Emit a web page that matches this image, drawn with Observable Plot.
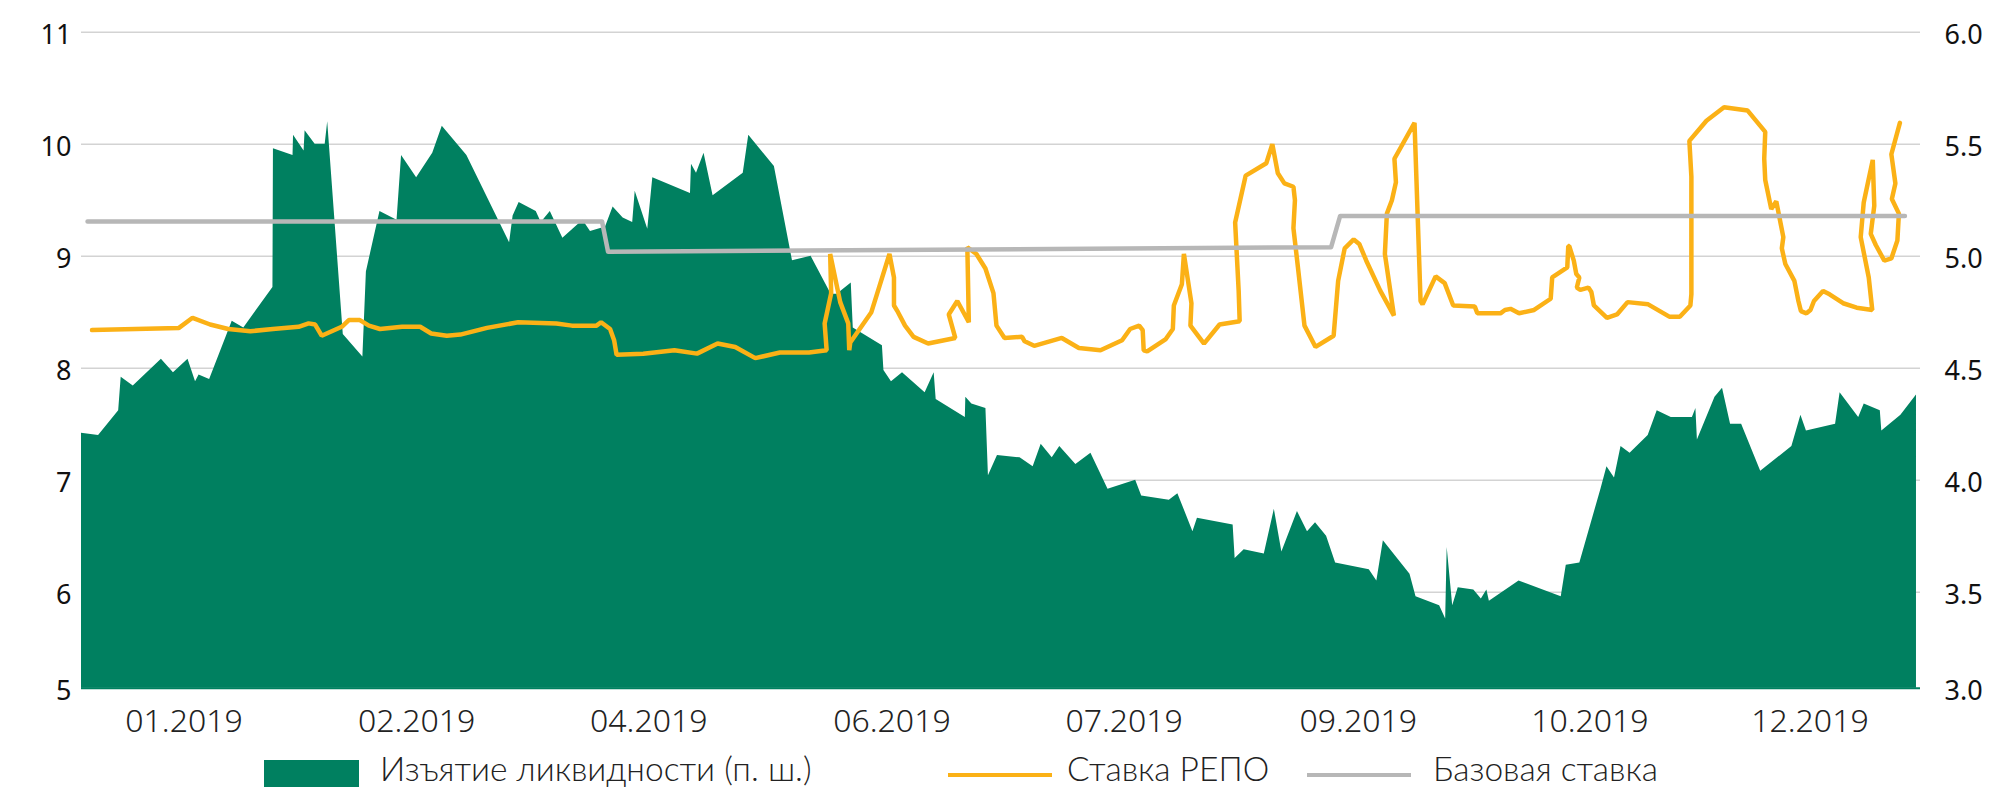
<!DOCTYPE html>
<html><head><meta charset="utf-8">
<script src="https://cdn.jsdelivr.net/npm/d3@7"></script>
<script src="https://cdn.jsdelivr.net/npm/@observablehq/plot@0.6"></script>
<style>
body{margin:0;background:#fff;}
#wrap{position:relative;width:1997px;height:790px;font-family:Lato,"Open Sans",sans-serif;overflow:hidden;}
#chart{position:absolute;left:0;top:0;}
.sw{position:absolute;}
.lt{position:absolute;font-size:33.5px;font-weight:300;color:#222;line-height:30px;top:753px;white-space:nowrap;}
</style></head><body><div id="wrap"><div id="chart"></div><div id="legend"></div></div>
<script>
// ---- data ----
// liquidity withdrawal (right scale, trn), x = day of year position
const liqDay = [0,3.4,7.4,7.9,10.3,15.9,18.3,21.2,22.7,23.4,
25.5,30.0,32.3,38.1,38.2,42.1,42.2,44.3,44.5,46.5,
48.5,49.0,52.1,56.0,56.7,59.4,62.8,63.7,66.7,69.9,
71.8,76.7,85.2,85.9,87.1,90.5,91.5,93.3,95.8,99.8,
101.3,104.3,105.8,107.8,109.7,110.2,112.7,113.7,121.2,121.4,
122.4,123.9,125.7,131.7,132.8,137.9,141.5,145.2,149.2,150.4,
153.2,153.6,159.4,159.7,161.2,163.4,167.9,169.7,170.1,175.9,
176.0,177.2,180.0,180.5,182.3,186.8,189.4,191.0,193.2,194.7,
197.9,200.9,204.3,209.8,211.0,216.5,218.2,221.2,222.1,229.2,
229.6,231.4,235.4,237.4,238.9,242.0,244.0,245.6,247.8,249.6,
256.3,257.8,259.1,264.4,265.6,270.3,271.5,271.8,272.9,274.0,
277.1,278.6,279.7,280.2,286.1,294.5,295.5,298.2,302.4,303.6,
305.1,306.4,308.2,311.8,313.6,316.4,320.6,321.3,321.6,325.1,
326.6,328.2,330.4,334.2,340.4,342.2,343.3,349.1,350.0,353.7,
354.8,358.0,358.3,362.1,365.2];
const liqVal = [4.21,4.20,4.31,4.46,4.42,4.54,4.48,4.54,4.44,4.47,
4.45,4.71,4.68,4.86,5.48,5.45,5.54,5.47,5.56,5.50,
5.50,5.60,4.65,4.55,4.93,5.20,5.16,5.45,5.35,5.46,
5.58,5.45,5.06,5.18,5.24,5.20,5.15,5.20,5.08,5.16,
5.11,5.13,5.22,5.17,5.15,5.29,5.12,5.35,5.28,5.41,
5.37,5.46,5.27,5.37,5.54,5.40,4.98,5.00,4.83,4.83,
4.88,4.68,4.60,4.49,4.44,4.48,4.39,4.48,4.36,4.28,
4.37,4.34,4.32,4.02,4.11,4.10,4.06,4.16,4.10,4.15,
4.07,4.12,3.96,4.00,3.93,3.91,3.94,3.77,3.83,3.80,
3.65,3.69,3.67,3.87,3.68,3.86,3.77,3.81,3.75,3.63,
3.60,3.55,3.73,3.58,3.48,3.44,3.38,3.70,3.44,3.52,
3.51,3.47,3.51,3.46,3.55,3.48,3.62,3.63,3.96,4.06,
4.01,4.15,4.12,4.20,4.31,4.28,4.28,4.32,4.18,4.37,
4.41,4.25,4.25,4.04,4.15,4.29,4.22,4.25,4.39,4.28,
4.34,4.31,4.22,4.29,4.38];

// REPO rate (left scale, %)
const repoDay = [2.1,19.4,22.1,25.6,29.2,33.6,38.1,43.2,45.2,46.5,
47.8,51.8,53.2,55.4,57.2,59.4,63.8,67.4,69.6,72.7,
75.4,80.7,86.9,94.5,97.6,102.5,103.4,105.2,106.0,106.5,
111.8,118.0,122.5,126.6,130.1,134.1,139.0,144.8,148.3,147.9,
149.2,149.0,151.0,152.6,152.8,153.0,157.2,158.8,160.8,161.7,
161.7,162.5,163.9,165.6,168.5,173.9,172.6,174.3,176.6,176.3,
178.1,179.9,181.5,182.1,183.7,187.2,187.7,189.6,195.1,198.5,
202.8,207.1,208.7,210.5,211.2,211.4,212.1,215.8,217.2,217.4,
219.0,219.4,220.9,220.7,223.4,226.5,230.5,230.3,229.6,231.7,
235.8,237.0,238.1,239.4,241.2,241.5,241.2,242.1,243.4,245.6,
249.2,250.1,251.4,253.2,254.3,255.7,258.5,261.2,259.4,259.8,
260.8,261.6,261.3,265.3,266.5,266.9,269.5,271.3,273.0,277.3,
277.8,282.4,283.3,284.4,286.1,289.1,292.4,292.7,295.7,295.9,
296.1,297.0,297.5,298.1,297.6,298.3,299.9,300.5,301.0,303.6,
305.6,307.7,311.8,316.0,318.1,320.2,320.4,320.4,320.0,323.4,
326.9,331.6,335.1,334.9,335.1,336.3,337.3,338.7,338.4,339.1,
340.9,341.7,342.2,343.3,344.1,344.8,346.6,347.9,350.6,353.3,
356.4,355.7,354.1,354.7,356.5,356.8,356.1,357.1,358.8,360.2,
361.4,361.7,360.3,361.0,360.2,361.9];
const repoVal = [8.34,8.36,8.45,8.39,8.35,8.33,8.35,8.37,8.40,8.39,
8.29,8.37,8.43,8.43,8.38,8.35,8.37,8.37,8.31,8.29,
8.30,8.36,8.41,8.40,8.38,8.38,8.41,8.35,8.25,8.12,
8.13,8.16,8.13,8.22,8.19,8.09,8.14,8.14,8.16,8.40,
8.67,9.02,8.59,8.40,8.16,8.23,8.50,8.73,9.02,8.81,
8.56,8.50,8.38,8.28,8.22,8.27,8.48,8.60,8.41,9.08,
9.02,8.89,8.67,8.38,8.27,8.28,8.24,8.20,8.27,8.18,
8.16,8.25,8.35,8.38,8.34,8.16,8.15,8.26,8.35,8.56,
8.75,9.02,8.58,8.38,8.22,8.39,8.42,8.69,9.30,9.72,
9.83,10.00,9.74,9.65,9.62,9.50,9.25,8.90,8.38,8.19,
8.29,8.78,9.07,9.15,9.11,8.96,8.69,8.47,9.02,9.38,
9.50,9.66,9.87,10.19,8.60,8.57,8.82,8.76,8.56,8.55,
8.49,8.49,8.52,8.53,8.49,8.52,8.62,8.81,8.90,9.09,
9.09,8.96,8.84,8.81,8.72,8.70,8.72,8.68,8.56,8.45,
8.48,8.59,8.57,8.46,8.46,8.56,8.66,9.71,10.03,10.21,
10.33,10.30,10.11,9.87,9.68,9.42,9.49,9.17,9.07,8.93,
8.78,8.60,8.51,8.49,8.52,8.60,8.69,8.66,8.58,8.54,
8.52,8.81,9.17,9.48,9.86,9.45,9.20,9.10,8.96,8.98,
9.14,9.38,9.51,9.65,9.91,10.19];

// Base rate (left scale, %)
const baseDay = [1.2,103.6,104.8,248.7,250.5,362.9];
const baseVal = [9.31,9.31,9.04,9.08,9.36,9.36];

// axes
const xTickDays = [20.4,66.7,112.9,161.3,207.5,254.1,300.2,344.0];
const xTickLabels = ["01.2019","02.2019","04.2019","06.2019","07.2019","09.2019","10.2019","12.2019"];
const leftTicks = [5,6,7,8,9,10,11];
const rightTickLabels = ["3.0","3.5","4.0","4.5","5.0","5.5","6.0"];
const seriesNames = ["Изъятие ликвидности (п. ш.)","Ставка РЕПО","Базовая ставка"];
const colors = ["#008060","#FBB116","#B7B7B7"];

// ---- build ----
const toLeft = v => 2 * v - 1; // right scale (3..6) -> left scale (5..11)
const liq = liqDay.map((d, i) => ({d, v: liqVal[i]}));
const repo = repoDay.map((d, i) => ({d, v: repoVal[i]}));
const base = baseDay.map((d, i) => ({d, v: baseVal[i]}));

const chart = Plot.plot({
  width: 1997,
  height: 745,
  marginLeft: 81,
  marginRight: 77,
  marginTop: 20,
  marginBottom: 57.3,
  style: {background: "transparent", overflow: "visible"},
  x: {type: "linear", domain: [0, 366]},
  y: {type: "linear", domain: [5, 5.6, 11], range: [687.7, 636.5, 31.7]},
  marks: [
    Plot.gridY(leftTicks.slice(1), {stroke: "#D3D3D3", strokeOpacity: 1, strokeWidth: 1.5}),
    Plot.areaY(liq, {x: "d", y1: () => 5, y2: d => toLeft(d.v), fill: colors[0]}),
    Plot.ruleY([5], {stroke: colors[0], strokeWidth: 2}),
    Plot.line(repo, {x: "d", y: "v", stroke: colors[1], strokeWidth: 4.5, strokeLinejoin: "miter"}),
    Plot.line(base, {x: "d", y: "v", stroke: colors[2], strokeWidth: 4.5}),
    Plot.axisY(leftTicks, {anchor: "left", tickSize: 0, tickPadding: 10, fontSize: 27, fill: "#111", dy: 3, tickFormat: d => String(d), label: null}),
    Plot.axisY(leftTicks, {anchor: "right", tickSize: 0, tickPadding: 24, fontSize: 27, fill: "#111", dy: 3, tickFormat: d => rightTickLabels[leftTicks.indexOf(d)], label: null}),
    Plot.axisX(xTickDays, {anchor: "bottom", tickSize: 0, tickPadding: 21, fontSize: 32, fontWeight: 300, fill: "#222", tickFormat: d => xTickLabels[xTickDays.indexOf(d)], label: null})
  ]
});
document.getElementById("chart").appendChild(chart);

// legend
const leg = document.getElementById("legend");
const items = [
  {sw: {left: 264, top: 760, width: 95, height: 27}, tx: 380},
  {sw: {left: 948, top: 773, width: 104, height: 4}, tx: 1067},
  {sw: {left: 1307, top: 773, width: 104, height: 4}, tx: 1433}
];
items.forEach((it, i) => {
  const s = document.createElement("div");
  s.className = "sw";
  Object.assign(s.style, {left: it.sw.left + "px", top: it.sw.top + "px", width: it.sw.width + "px", height: it.sw.height + "px", background: colors[i]});
  leg.appendChild(s);
  const t = document.createElement("div");
  t.className = "lt";
  t.style.left = it.tx + "px";
  t.textContent = seriesNames[i];
  leg.appendChild(t);
});
</script>
</body></html>
